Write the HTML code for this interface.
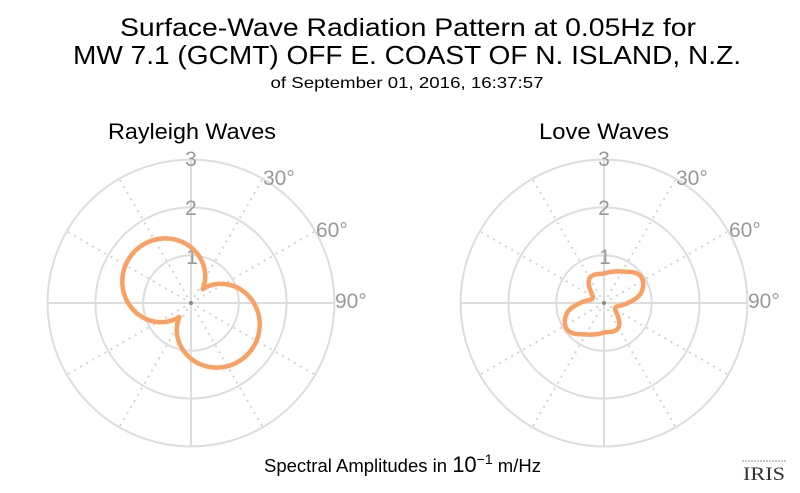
<!DOCTYPE html>
<html><head><meta charset="utf-8"><style>
html,body{margin:0;padding:0;background:#fff;}
svg{display:block;font-family:"Liberation Sans",sans-serif;}
</style></head><body>
<svg id="s" width="800" height="493" viewBox="0 0 800 493">
<text x="408" y="36" font-size="25" text-anchor="middle" textLength="576" lengthAdjust="spacingAndGlyphs">Surface-Wave Radiation Pattern at 0.05Hz for</text>
<text x="407" y="64" font-size="26" text-anchor="middle" textLength="668" lengthAdjust="spacingAndGlyphs">MW 7.1 (GCMT) OFF E. COAST OF N. ISLAND, N.Z.</text>
<text x="407" y="88" font-size="16" text-anchor="middle" textLength="273" lengthAdjust="spacingAndGlyphs">of September 01, 2016, 16:37:57</text>
<text x="192" y="139" font-size="22" text-anchor="middle" textLength="168" lengthAdjust="spacingAndGlyphs">Rayleigh Waves</text>
<text x="604" y="139" font-size="22" text-anchor="middle" textLength="130" lengthAdjust="spacingAndGlyphs">Love Waves</text>
<g id="g1"></g><g id="g2"></g>
<text x="264" y="472" font-size="18.5">Spectral Amplitudes in <tspan font-size="22">10</tspan><tspan font-size="14" dy="-8">−1</tspan><tspan dy="8"> m/Hz</tspan></text>
<line x1="742" y1="461" x2="786" y2="461" stroke="#888" stroke-width="1" stroke-dasharray="2 1"/>
<text x="764" y="480" font-size="19" text-anchor="middle" font-family="Liberation Serif,serif" fill="#333" textLength="42" lengthAdjust="spacingAndGlyphs">IRIS</text>
</svg>
<script>
var NS="http://www.w3.org/2000/svg";
function el(p,t,a,txt){var e=document.createElementNS(NS,t);for(var k in a)e.setAttribute(k,a[k]);if(txt)e.textContent=txt;p.appendChild(e);return e;}
function grid(g,cx,cy){
 var u=47.8;
 for(var i=1;i<=3;i++)el(g,"circle",{cx:cx,cy:cy,r:u*i,fill:"none",stroke:"#ddd","stroke-width":2});
 for(var a=0;a<360;a+=30){var r=a*Math.PI/180;var solid=a%90==0;
  el(g,"line",{x1:cx,y1:cy,x2:cx+Math.sin(r)*u*3,y2:cy-Math.cos(r)*u*3,stroke:solid?"#ddd":"#d4d4d4","stroke-width":2,"stroke-dasharray":solid?"none":"2 5"});}
 el(g,"circle",{cx:cx,cy:cy,r:2,fill:"#888"});
 var c="#999";
 el(g,"text",{x:cx,y:cy-137,"font-size":21,fill:c,"text-anchor":"middle"},"3");
 el(g,"text",{x:cx,y:cy-88,"font-size":21,fill:c,"text-anchor":"middle"},"2");
 el(g,"text",{x:cx+1,y:cy-39,"font-size":21,fill:c,"text-anchor":"middle"},"1");
 el(g,"text",{x:cx+72,y:cy-118,"font-size":21,fill:c},"30°");
 el(g,"text",{x:cx+125,y:cy-66,"font-size":21,fill:c},"60°");
 el(g,"text",{x:cx+144,y:cy+5,"font-size":21,fill:c},"90°");
}
function draw(g,cx,cy,f){
 var u=47.8,d="";
 for(var i=0;i<=720;i++){var a=i/2,r=f(a)*u,t=a*Math.PI/180;
  d+=(i?"L":"M")+(cx+Math.sin(t)*r).toFixed(2)+","+(cy-Math.cos(t)*r).toFixed(2);}
 el(g,"path",{d:d+"Z",fill:"none",stroke:"#f9a062","stroke-width":4.5,"stroke-linejoin":"round"});
}
var g1=document.getElementById("g1"),g2=document.getElementById("g2");
grid(g1,191,303);grid(g2,604,303);
draw(g1,191,303,function(a){return 0.38+1.22*Math.abs(Math.cos((a-310)*Math.PI/180));});
var pts=[[0,0.62],[30,0.76],[54,0.95],[75,0.8],[90,0.5],[105,0.28],[125,0.3],[150,0.6]];
var P=[];for(var k=0;k<3;k++)pts.forEach(function(p){P.push([p[0]+180*k,p[1]]);});
function love(a){a=((a%180)+180)%180+180;
 for(var i=1;i<P.length-2;i++){if(a>=P[i][0]&&a<=P[i+1][0]){
  var p0=P[i-1],p1=P[i],p2=P[i+1],p3=P[i+2],t=(a-p1[0])/(p2[0]-p1[0]);
  var m1=(p2[1]-p0[1])/(p2[0]-p0[0])*(p2[0]-p1[0]),m2=(p3[1]-p1[1])/(p3[0]-p1[0])*(p2[0]-p1[0]);
  var t2=t*t,t3=t2*t;
  return (2*t3-3*t2+1)*p1[1]+(t3-2*t2+t)*m1+(-2*t3+3*t2)*p2[1]+(t3-t2)*m2;}}
 return 0.5;}
draw(g2,604,303,love);
</script>
</body></html>
